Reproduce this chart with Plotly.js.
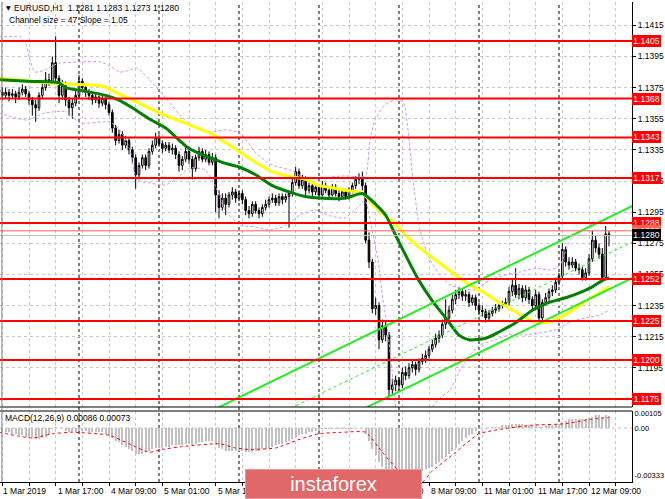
<!DOCTYPE html>
<html><head><meta charset="utf-8">
<script src="https://cdn.plot.ly/plotly-3.0.1.min.js"></script>
<style>html,body{margin:0;padding:0;background:#fff;}#chart{width:665px;height:499px;}</style>
</head><body><div id="chart"></div>
<script>
// ---- candles (EURUSD H1, 1 Mar 2019 00:00 .. 12 Mar 2019) ----
const open = [
1.1374,1.1372,1.1370,1.1372,1.1370,1.1371,1.1369,1.1372,1.1374,1.1371,
1.1367,1.1364,1.1362,1.1370,1.1375,1.1380,1.1379,1.1391,1.1381,1.1370,
1.1377,1.1367,1.1362,1.1365,1.1370,1.1379,1.1375,1.1372,1.1370,1.1367,
1.1369,1.1365,1.1368,1.1364,1.1359,1.1349,1.1341,1.1345,1.1338,1.1341,
1.1335,1.1330,1.1319,1.1325,1.1330,1.1325,1.1334,1.1338,1.1343,1.1339,
1.1336,1.1338,1.1335,1.1336,1.1332,1.1325,1.1329,1.1334,1.1329,1.1323,
1.1330,1.1334,1.1329,1.1332,1.1327,1.1330,1.1306,1.1298,1.1304,1.1300,
1.1306,1.1308,1.1304,1.1307,1.1303,1.1296,1.1294,1.1300,1.1296,1.1294,
1.1298,1.1300,1.1303,1.1304,1.1301,1.1305,1.1303,1.1305,1.1307,1.1314,
1.1321,1.1312,1.1316,1.1309,1.1312,1.1308,1.1311,1.1306,1.1312,1.1309,
1.1306,1.1311,1.1307,1.1305,1.1308,1.1305,1.1309,1.1312,1.1316,1.1317,
1.1312,1.1277,1.1263,1.1233,1.1235,1.1213,1.1222,1.1216,1.1181,1.1184,
1.1187,1.1184,1.1192,1.1190,1.1195,1.1197,1.1194,1.1199,1.1201,1.1203,
1.1207,1.1210,1.1214,1.1216,1.1223,1.1227,1.1232,1.1239,1.1242,1.1244,
1.1241,1.1242,1.1237,1.1240,1.1235,1.1232,1.1231,1.1227,1.1230,1.1232,
1.1233,1.1235,1.1236,1.1237,1.1244,1.1248,1.1242,1.1246,1.1240,1.1245,
1.1239,1.1235,1.1242,1.1227,1.1237,1.1240,1.1244,1.1245,1.1250,1.1254,
1.1271,1.1263,1.1261,1.1263,1.1259,1.1258,1.1253,1.1256,1.1265,1.1277,
1.1272,1.1268,1.1253,1.1281];
const high = [
1.1377,1.1375,1.1375,1.1374,1.1374,1.1373,1.1375,1.1377,1.1376,1.1373,
1.1369,1.1367,1.1372,1.1378,1.1385,1.1384,1.1395,1.1408,1.1383,1.1380,
1.1379,1.1369,1.1368,1.1373,1.1383,1.1381,1.1377,1.1374,1.1372,1.1371,
1.1370,1.1370,1.1369,1.1366,1.1361,1.1351,1.1348,1.1347,1.1344,1.1343,
1.1337,1.1332,1.1327,1.1332,1.1332,1.1336,1.1341,1.1346,1.1345,1.1341,
1.1340,1.1340,1.1339,1.1338,1.1334,1.1331,1.1337,1.1336,1.1331,1.1332,
1.1337,1.1336,1.1335,1.1334,1.1333,1.1332,1.1309,1.1307,1.1307,1.1308,
1.1311,1.1310,1.1309,1.1309,1.1305,1.1299,1.1302,1.1302,1.1298,1.1300,
1.1303,1.1305,1.1307,1.1306,1.1307,1.1307,1.1307,1.1309,1.1318,1.1324,
1.1323,1.1319,1.1318,1.1314,1.1314,1.1313,1.1313,1.1315,1.1314,1.1311,
1.1313,1.1313,1.1309,1.1310,1.1310,1.1311,1.1314,1.1318,1.1320,1.1321,
1.1314,1.1282,1.1265,1.1240,1.1237,1.1226,1.1225,1.1218,1.1188,1.1190,
1.1189,1.1195,1.1196,1.1198,1.1200,1.1199,1.1201,1.1204,1.1206,1.1209,
1.1213,1.1217,1.1219,1.1226,1.1239,1.1235,1.1242,1.1245,1.1247,1.1246,
1.1245,1.1244,1.1242,1.1242,1.1237,1.1235,1.1233,1.1232,1.1234,1.1236,
1.1237,1.1238,1.1240,1.1247,1.1252,1.1259,1.1249,1.1248,1.1248,1.1247,
1.1241,1.1245,1.1244,1.1239,1.1243,1.1246,1.1248,1.1253,1.1256,1.1275,
1.1273,1.1266,1.1266,1.1265,1.1262,1.1260,1.1259,1.1268,1.1283,1.1280,
1.1275,1.1272,1.1286,1.1283];
const low = [
1.1369,1.1367,1.1368,1.1366,1.1368,1.1365,1.1367,1.1370,1.1369,1.1364,
1.1357,1.1353,1.1360,1.1368,1.1373,1.1376,1.1377,1.1379,1.1365,1.1367,
1.1363,1.1357,1.1355,1.1363,1.1368,1.1372,1.1369,1.1367,1.1364,1.1365,
1.1362,1.1363,1.1361,1.1357,1.1346,1.1338,1.1339,1.1335,1.1336,1.1332,
1.1326,1.1310,1.1316,1.1323,1.1322,1.1323,1.1332,1.1336,1.1337,1.1333,
1.1334,1.1333,1.1332,1.1329,1.1321,1.1322,1.1327,1.1326,1.1316,1.1321,
1.1328,1.1327,1.1327,1.1325,1.1325,1.1295,1.1291,1.1296,1.1293,1.1298,
1.1303,1.1301,1.1302,1.1300,1.1293,1.1291,1.1292,1.1294,1.1291,1.1292,
1.1296,1.1298,1.1301,1.1299,1.1299,1.1300,1.1301,1.1285,1.1305,1.1312,
1.1310,1.1310,1.1306,1.1307,1.1305,1.1306,1.1304,1.1305,1.1307,1.1304,
1.1305,1.1305,1.1302,1.1303,1.1303,1.1303,1.1307,1.1310,1.1313,1.1309,
1.1275,1.1259,1.1230,1.1229,1.1207,1.1211,1.1212,1.1176,1.1178,1.1180,
1.1180,1.1182,1.1187,1.1188,1.1192,1.1190,1.1192,1.1197,1.1198,1.1201,
1.1205,1.1208,1.1211,1.1214,1.1220,1.1225,1.1230,1.1236,1.1239,1.1238,
1.1238,1.1234,1.1235,1.1232,1.1229,1.1228,1.1224,1.1225,1.1228,1.1230,
1.1231,1.1233,1.1234,1.1235,1.1241,1.1240,1.1239,1.1237,1.1238,1.1236,
1.1231,1.1233,1.1223,1.1225,1.1235,1.1238,1.1241,1.1243,1.1248,1.1252,
1.1260,1.1258,1.1259,1.1257,1.1255,1.1251,1.1251,1.1254,1.1263,1.1269,
1.1265,1.1250,1.1251,1.1273];
const close = [
1.1372,1.1370,1.1372,1.1370,1.1371,1.1369,1.1372,1.1374,1.1371,1.1367,
1.1364,1.1362,1.1370,1.1375,1.1380,1.1379,1.1391,1.1381,1.1370,1.1377,
1.1367,1.1362,1.1365,1.1370,1.1379,1.1375,1.1372,1.1370,1.1367,1.1369,
1.1365,1.1368,1.1364,1.1359,1.1349,1.1341,1.1345,1.1338,1.1341,1.1335,
1.1330,1.1319,1.1325,1.1330,1.1325,1.1334,1.1338,1.1343,1.1339,1.1336,
1.1338,1.1335,1.1336,1.1332,1.1325,1.1329,1.1334,1.1329,1.1323,1.1330,
1.1334,1.1329,1.1332,1.1327,1.1330,1.1306,1.1298,1.1304,1.1300,1.1306,
1.1308,1.1304,1.1307,1.1303,1.1296,1.1294,1.1300,1.1296,1.1294,1.1298,
1.1300,1.1303,1.1304,1.1301,1.1305,1.1303,1.1305,1.1307,1.1314,1.1321,
1.1312,1.1316,1.1309,1.1312,1.1308,1.1311,1.1306,1.1312,1.1309,1.1306,
1.1311,1.1307,1.1305,1.1308,1.1305,1.1309,1.1312,1.1316,1.1317,1.1312,
1.1277,1.1263,1.1233,1.1235,1.1213,1.1222,1.1216,1.1181,1.1184,1.1187,
1.1184,1.1192,1.1190,1.1195,1.1197,1.1194,1.1199,1.1201,1.1203,1.1207,
1.1210,1.1214,1.1216,1.1223,1.1227,1.1232,1.1239,1.1242,1.1244,1.1241,
1.1242,1.1237,1.1240,1.1235,1.1232,1.1231,1.1227,1.1230,1.1232,1.1233,
1.1235,1.1236,1.1237,1.1244,1.1248,1.1242,1.1246,1.1240,1.1245,1.1239,
1.1235,1.1242,1.1227,1.1237,1.1240,1.1244,1.1245,1.1250,1.1254,1.1271,
1.1263,1.1261,1.1263,1.1259,1.1258,1.1253,1.1256,1.1265,1.1277,1.1272,
1.1268,1.1253,1.1281,1.1280];

// ---- MACD(12,26,9) histogram, one value per bar ----
const macdHist = [
-0.0002,-0.0003,-0.0003,-0.0003,-0.0004,-0.0004,-0.0005,-0.0005,-0.0006,-0.0006,
-0.0007,-0.0008,-0.0008,-0.0007,-0.0006,-0.0004,-0.0001,0.0001,0.0000,-0.0001,
-0.0002,-0.0003,-0.0003,-0.0003,-0.0002,-0.0002,-0.0002,-0.0003,-0.0003,-0.0003,
-0.0003,-0.0003,-0.0004,-0.0005,-0.0007,-0.0009,-0.0010,-0.0012,-0.0013,-0.0015,
-0.0016,-0.0018,-0.0018,-0.0018,-0.0017,-0.0016,-0.0015,-0.0014,-0.0014,-0.0014,
-0.0013,-0.0013,-0.0012,-0.0012,-0.0012,-0.0012,-0.0011,-0.0011,-0.0012,-0.0011,
-0.0010,-0.0010,-0.0009,-0.0009,-0.0009,-0.0012,-0.0014,-0.0015,-0.0016,-0.0016,
-0.0016,-0.0016,-0.0016,-0.0016,-0.0017,-0.0017,-0.0017,-0.0016,-0.0016,-0.0015,
-0.0015,-0.0014,-0.0013,-0.0012,-0.0011,-0.0011,-0.0010,-0.0009,-0.0008,-0.0006,
-0.0005,-0.0004,-0.0004,-0.0003,-0.0003,-0.0002,-0.0002,-0.0001,-0.0001,-0.0001,
-0.0001,-0.0001,-0.0001,-0.0001,-0.0001,-0.0001,-0.0001,0.0000,0.0000,0.0000,
-0.0004,-0.0009,-0.0015,-0.0019,-0.0024,-0.0027,-0.0029,-0.0032,-0.0033,-0.0033,
-0.0033,-0.0033,-0.0033,-0.0033,-0.0032,-0.0032,-0.0031,-0.0030,-0.0029,-0.0028,
-0.0027,-0.0025,-0.0024,-0.0022,-0.0020,-0.0018,-0.0016,-0.0014,-0.0011,-0.0009,
-0.0007,-0.0005,-0.0004,-0.0002,-0.0001,0.0000,-0.0001,0.0000,0.0001,0.0001,
0.0001,0.0002,0.0002,0.0002,0.0003,0.0003,0.0003,0.0003,0.0002,0.0002,
0.0002,0.0002,0.0001,0.0001,0.0002,0.0002,0.0002,0.0003,0.0003,0.0004,
0.0005,0.0006,0.0006,0.0006,0.0006,0.0006,0.0006,0.0007,0.0008,0.0009,
0.0009,0.0008,0.0009,0.00086];
const signalIdx = [0,10,16,22,33,39,45,49,55,66,71,75,83,90,96,103,110,115,120,126,130,137,144,153,160,170,177,183];
const signalVal = [-0.0003,-0.0007,-0.0004,-0.0003,-0.0005,-0.0011,-0.0017,-0.0015,-0.0013,-0.0011,-0.0014,-0.0015,-0.0014,-0.0008,-0.0004,-0.0003,-0.0003,-0.0017,-0.0030,-0.0040,-0.0030,-0.0017,-0.0004,0.0000,0.0002,0.0003,0.0006,0.00073];

// ---- moving averages (read at sample bars) ----
const yellowIdx = [0,15,24,31,35,40,45,50,56,64,72,77,82,87,92,96,99,104,109,113,119,123,128,133,138,143,145,150,155,160,164,169,177,183];
const yellowMA  = [1.1381,1.1378,1.1377,1.1376,1.1372,1.1367,1.1362,1.1357,1.1352,1.1345,1.1334,1.1327,1.1321,1.1318,1.1316,1.1312,1.1311,1.1309,1.1307,1.1298,1.1287,1.1278,1.1269,1.1261,1.1253,1.1246,1.1244,1.1237,1.1231,1.1225,1.1224,1.1228,1.1239,1.1247];
const greenIdx = [0,10,18,20,25,32,36,40,45,50,57,67,72,77,82,87,92,96,104,109,113,116,119,123,126,130,134,138,141,146,150,155,160,165,170,175,178,181,183];
const greenMA  = [1.1380,1.1379,1.1378,1.1375,1.1373,1.1370,1.1367,1.1362,1.1355,1.1349,1.1336,1.1327,1.1324,1.1319,1.1312,1.1308,1.1305,1.1304,1.1304,1.1307,1.1300,1.1293,1.1280,1.1263,1.1251,1.1238,1.1227,1.1216,1.1213,1.1214,1.1218,1.1224,1.1232,1.1237,1.1240,1.1244,1.1247,1.1251,1.1253];

// ---- Bollinger bands (read at sample bars) ----
const bbUpIdx = [0,6.3,7.8,9.3,10.8,13.8,15.9,18.3,24.3,30.3,33.3,36.3,39.3,41.4,44.4,49.8,54.3,58.8,63.3,67.8,72.3,76.8,81.9,87.3,91.8,96.3,103.8,108.9,110.1,111.3,112.8,115.8,118.8,121.2,122.7,124.2,126.3,129.3,132.3,135.3,138.3,142.8,147.3,151.8,156.3,160.8,165.3,168.3,171.3,174.3,177.3,180.3,183];
const bbUp = [1.14075,1.14075,1.14043,1.13928,1.13850,1.13863,1.13889,1.13908,1.13915,1.13915,1.13889,1.13850,1.13863,1.13876,1.13818,1.13690,1.13574,1.13491,1.13465,1.13478,1.13459,1.13336,1.13253,1.13221,1.13170,1.13170,1.13183,1.13176,1.13189,1.13414,1.13542,1.13639,1.13671,1.13658,1.13478,1.13157,1.12836,1.12643,1.12546,1.12482,1.12463,1.12450,1.12514,1.12546,1.12565,1.12591,1.12578,1.12610,1.12771,1.12823,1.12868,1.12887,1.12900];
const bbLoIdx = [0,8.4,13.8,20.4,24.3,33.3,36.3,39.3,41.4,45.3,49.8,52.8,57.3,61.8,64.8,67.8,72.3,76.8,81.3,85.8,90.3,94.8,99.3,103.8,108.3,109.8,111.9,113.7,115.2,116.4,117.9,119.7,123.3,126.3,129.3,132.3,135.3,138.3,141.3,144.3,148.8,153.3,157.8,162.3,166.8,171.3,175.8,180.3,183];
const bbLo = [1.13587,1.13542,1.13587,1.13594,1.13523,1.13529,1.13478,1.13350,1.13157,1.13137,1.13124,1.13157,1.13234,1.13221,1.13124,1.12964,1.12868,1.12855,1.12836,1.12861,1.12932,1.12964,1.12926,1.12913,1.12996,1.13028,1.12836,1.12643,1.12386,1.12225,1.11936,1.11614,1.11486,1.11582,1.11679,1.11756,1.11807,1.11936,1.12032,1.12097,1.12129,1.12161,1.12161,1.12174,1.12193,1.12244,1.12270,1.12289,1.12321];

// ---- linear regression channel (size 47, slope 1.05) ----
const chanIdx = [60, 192];
const chanUpper = [1.11634, 1.13011];
const chanMid   = [1.11403, 1.12780];
const chanLower = [1.11171, 1.12548];

// ---- horizontal levels ----
const levels = [1.1405,1.1368,1.1343,1.1317,1.1288,1.1252,1.1225,1.1200,1.1175];
const askPrice = 1.1283, bidPrice = 1.1280;

// ---- axes ----
const priceTicks = [1.1195,1.1215,1.1235,1.1255,1.1275,1.1295,1.1315,1.1335,1.1355,1.1375,1.1395,1.1415];
const macdTicks = [0.00105, 0.0, -0.00333];
const macdTickText = ['0.00105','0.00','-0.00333'];
const gridIdx = [1,9,17,25,33,41,49,57,65,73,81,89,97,105,113,121,129,137,145,153,161,169,177,185];
const timeLabelIdx = [0,17,33,49,65,81,97,113,129,145,161,177];
const timeLabels = ['1 Mar 2019','1 Mar 17:00','4 Mar 09:00','5 Mar 01:00','5 Mar 17:00','6 Mar 09:00','7 Mar 01:00','7 Mar 17:00','8 Mar 09:00','11 Mar 01:00','11 Mar 17:00','12 Mar 09:00'];
const daySeparators = [24,48,72,96,120,144,168];

const barIdx = close.map((_, i) => i);
const FONT = 'Liberation Sans, Arial, sans-serif';
const X_RANGE = [0.3, 189.9];

const traces = [
  {type:'scatter', mode:'lines', x:bbUpIdx, y:bbUp, xaxis:'x', yaxis:'y', line:{color:'#cc99ee', width:1, dash:'3px,2px', shape:'spline', smoothing:0.6}, hoverinfo:'skip'},
  {type:'scatter', mode:'lines', x:bbLoIdx, y:bbLo, xaxis:'x', yaxis:'y', line:{color:'#cc99ee', width:1, dash:'3px,2px', shape:'spline', smoothing:0.6}, hoverinfo:'skip'},
  {type:'candlestick', x:barIdx, open:open, high:high, low:low, close:close, xaxis:'x', yaxis:'y',
   increasing:{line:{color:'#000', width:1}, fillcolor:'#ffffff'},
   decreasing:{line:{color:'#000', width:1}, fillcolor:'#000000'},
   whiskerwidth:0, hoverinfo:'skip'},
  {type:'scatter', mode:'lines', x:yellowIdx, y:yellowMA, xaxis:'x', yaxis:'y', line:{color:'#ffff00', width:3, shape:'spline', smoothing:0.7}, hoverinfo:'skip'},
  {type:'scatter', mode:'lines', x:greenIdx, y:greenMA, xaxis:'x', yaxis:'y', line:{color:'#008000', width:3, shape:'spline', smoothing:0.7}, hoverinfo:'skip'},
  {type:'scatter', mode:'lines', x:chanIdx, y:chanUpper, xaxis:'x', yaxis:'y', line:{color:'#22ee22', width:2}, hoverinfo:'skip'},
  {type:'scatter', mode:'lines', x:chanIdx, y:chanMid, xaxis:'x', yaxis:'y', line:{color:'#22ee22', width:1, dash:'dot'}, hoverinfo:'skip'},
  {type:'scatter', mode:'lines', x:chanIdx, y:chanLower, xaxis:'x', yaxis:'y', line:{color:'#22ee22', width:2}, hoverinfo:'skip'},
  {type:'bar', x:barIdx, y:macdHist, xaxis:'x', yaxis:'y2', width:0.55, marker:{color:'#c0c0c0', line:{width:0}}, hoverinfo:'skip'},
  {type:'scatter', mode:'lines', x:signalIdx, y:signalVal, xaxis:'x', yaxis:'y2', line:{color:'#ff0000', width:1, dash:'dot', shape:'spline', smoothing:0.5}, hoverinfo:'skip'}
];

const shapes = [];
daySeparators.forEach(d => shapes.push({type:'line', xref:'x', yref:'paper', x0:d, x1:d, y0:0, y1:1, layer:'below', line:{color:'#000', width:1, dash:'dot'}}));
shapes.push({type:'line', xref:'paper', yref:'y2', x0:0, x1:1, y0:0, y1:0, layer:'below', line:{color:'#c0c0c0', width:1, dash:'dot'}});
shapes.push({type:'line', xref:'paper', yref:'y', x0:0, x1:1, y0:askPrice, y1:askPrice, line:{color:'#ff6347', width:1}});
shapes.push({type:'line', xref:'paper', yref:'y', x0:0, x1:1, y0:bidPrice, y1:bidPrice, line:{color:'#c0c0c0', width:1}});
levels.forEach(l => shapes.push({type:'line', xref:'paper', yref:'y', x0:0, x1:1, y0:l, y1:l, line:{color:'#ff0000', width:2}}));
shapes.push({type:'line', xref:'paper', yref:'paper', x0:0, x1:1, y0:0.15625, y1:0.15625, line:{color:'#000', width:1}});
shapes.push({type:'line', xref:'paper', yref:'paper', x0:0, x1:1, y0:0.1479, y1:0.1479, line:{color:'#000', width:1}});
shapes.push({type:'line', xref:'paper', yref:'paper', x0:0.003, x1:0.003, y0:0, y1:1, line:{color:'#808080', width:1}});

const ann = [];
levels.forEach(l => ann.push({xref:'paper', yref:'y', x:1, y:l, xanchor:'left', yanchor:'middle', text:l.toFixed(4), showarrow:false, bgcolor:'#ff0000', borderpad:1, borderwidth:0, width:27, font:{family:FONT, size:8.5, color:'#fff'}}));
ann.push({xref:'paper', yref:'y', x:1, y:askPrice, xanchor:'left', yanchor:'middle', text:askPrice.toFixed(4), showarrow:false, bgcolor:'#ff6347', borderpad:1, borderwidth:0, width:27, font:{family:FONT, size:8.5, color:'#fff'}});
ann.push({xref:'paper', yref:'y', x:1, y:bidPrice, xanchor:'left', yanchor:'middle', text:bidPrice.toFixed(4), showarrow:false, bgcolor:'#000000', borderpad:1, borderwidth:0, width:27, font:{family:FONT, size:8.5, color:'#fff'}});
timeLabelIdx.forEach((t, i) => ann.push({xref:'x', yref:'paper', x:Math.max(t, X_RANGE[0] + 0.2), y:0, xanchor:'left', yanchor:'top', yshift:-2, text:timeLabels[i], showarrow:false, font:{family:FONT, size:8.5, color:'#000'}}));
ann.push({xref:'paper', yref:'paper', x:4/632, y:(482-8)/480, xanchor:'left', yanchor:'middle', text:'▼', showarrow:false, font:{family:'DejaVu Sans', size:6, color:'#000'}});
ann.push({xref:'paper', yref:'paper', x:12/632, y:(482-8)/480, xanchor:'left', yanchor:'middle', text:'EURUSD,H1  1.1281 1.1283 1.1273 1.1280', showarrow:false, font:{family:FONT, size:8.5, color:'#000'}});
ann.push({xref:'paper', yref:'paper', x:7/632, y:(482-20)/480, xanchor:'left', yanchor:'middle', text:'Channel size = 47 Slope = 1.05', showarrow:false, font:{family:FONT, size:8.5, color:'#000'}});
ann.push({xref:'paper', yref:'paper', x:3/632, y:(482-418)/480, xanchor:'left', yanchor:'middle', text:'MACD(12,26,9) 0.00086 0.00073', showarrow:false, font:{family:FONT, size:8.5, color:'#000'}});
ann.push({xref:'paper', yref:'paper', x:333.5/632, y:(482-484)/480, xanchor:'center', yanchor:'middle', text:'instaforex', showarrow:false, bgcolor:'#e06868', bordercolor:'#eb9a9a', borderwidth:1, borderpad:0, width:175, height:28, font:{family:FONT, size:20, color:'#ffffff'}});

const layout = {
  width:665, height:499,
  margin:{l:0, r:33, t:2, b:17},
  paper_bgcolor:'#ffffff', plot_bgcolor:'#ffffff',
  showlegend:false,
  font:{family:FONT, size:8.5, color:'#000'},
  xaxis:{type:'linear', range:X_RANGE, anchor:'y2', tickvals:gridIdx, ticktext:gridIdx.map(() => ''),
         showgrid:true, gridcolor:'#c8c8c8', griddash:'dot', gridwidth:1, ticks:'outside', ticklen:3, tickcolor:'#000',
         showline:true, linecolor:'#000', linewidth:1, zeroline:false, rangeslider:{visible:false}, fixedrange:true},
  yaxis:{domain:[0.15625,1], range:[1.11698,1.14300], side:'right', anchor:'x', tickvals:priceTicks, ticktext:priceTicks.map(v => v.toFixed(4)),
         showgrid:true, gridcolor:'#c8c8c8', griddash:'dot', gridwidth:1, ticks:'outside', ticklen:3, tickcolor:'#000',
         showline:true, linecolor:'#000', zeroline:false, tickfont:{family:FONT, size:8.5}},
  yaxis2:{domain:[0,0.1479], range:[-0.00378,0.00119], side:'right', anchor:'x', tickvals:macdTicks, ticktext:macdTickText,
          showgrid:false, ticks:'', ticklabelstandoff:0, showline:true, linecolor:'#000', zeroline:false, tickfont:{family:FONT, size:7.5}},
  bargap:0,
  shapes:shapes,
  annotations:ann
};

Plotly.newPlot('chart', traces, layout, {staticPlot:true, displayModeBar:false});
</script>
</body></html>
